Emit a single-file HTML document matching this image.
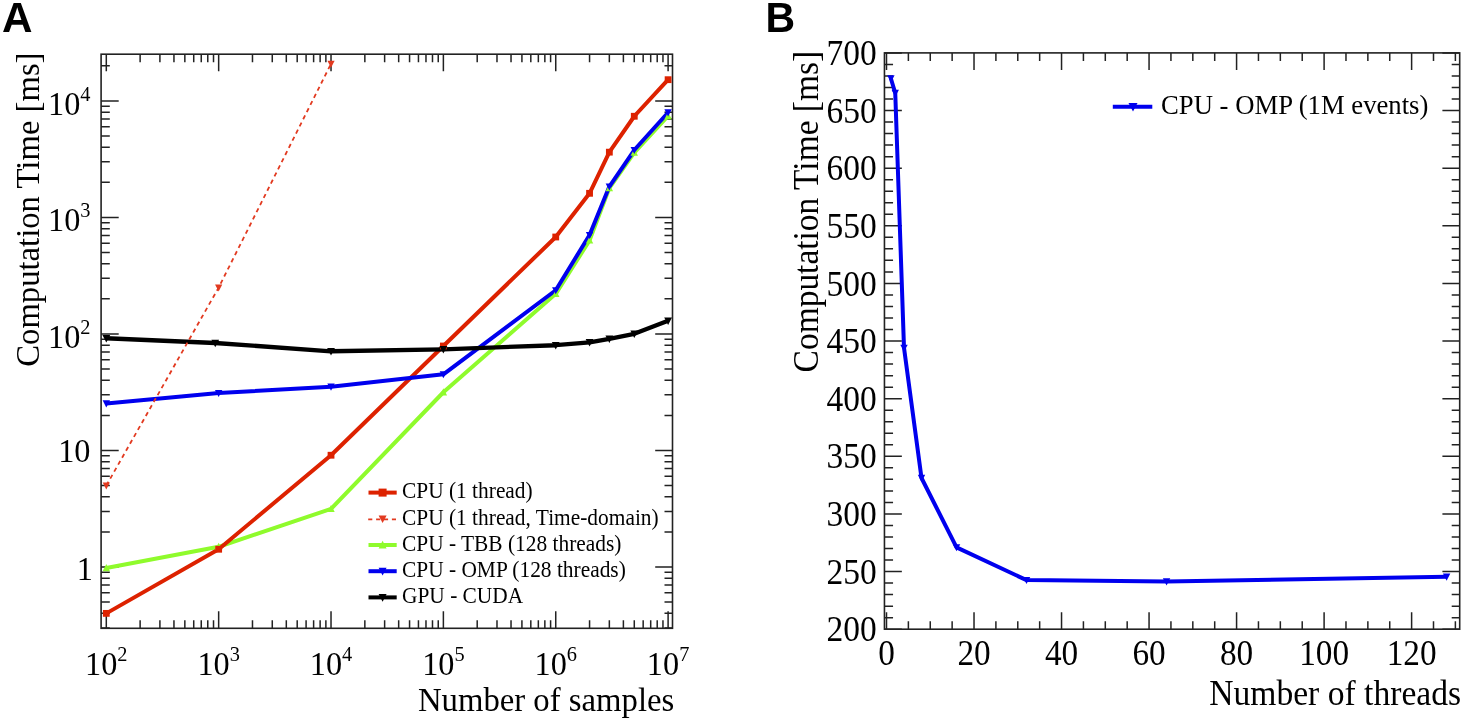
<!DOCTYPE html>
<html><head><meta charset="utf-8"><style>
html,body{margin:0;padding:0;background:#fff;width:1463px;height:721px;overflow:hidden}
svg{display:block;will-change:transform}
text{fill:#000}
</style></head><body>
<svg width="1463" height="721" viewBox="0 0 1463 721">
<defs><clipPath id="clipA"><rect x="101.1" y="54.2" width="571.4" height="574.0999999999999"/></clipPath></defs>
<rect x="101.1" y="54.2" width="571.40" height="574.10" fill="none" stroke="#222" stroke-width="1.6"/>
<path d="M106.30 628.3v-17M106.30 54.2v17M140.12 628.3v-8M140.12 54.2v8M159.91 628.3v-8M159.91 54.2v8M173.95 628.3v-8M173.95 54.2v8M184.84 628.3v-8M184.84 54.2v8M193.73 628.3v-8M193.73 54.2v8M201.26 628.3v-8M201.26 54.2v8M207.77 628.3v-8M207.77 54.2v8M213.52 628.3v-8M213.52 54.2v8M218.66 628.3v-17M218.66 54.2v17M252.48 628.3v-8M252.48 54.2v8M272.27 628.3v-8M272.27 54.2v8M286.31 628.3v-8M286.31 54.2v8M297.20 628.3v-8M297.20 54.2v8M306.09 628.3v-8M306.09 54.2v8M313.62 628.3v-8M313.62 54.2v8M320.13 628.3v-8M320.13 54.2v8M325.88 628.3v-8M325.88 54.2v8M331.02 628.3v-17M331.02 54.2v17M364.84 628.3v-8M364.84 54.2v8M384.63 628.3v-8M384.63 54.2v8M398.67 628.3v-8M398.67 54.2v8M409.56 628.3v-8M409.56 54.2v8M418.45 628.3v-8M418.45 54.2v8M425.98 628.3v-8M425.98 54.2v8M432.49 628.3v-8M432.49 54.2v8M438.24 628.3v-8M438.24 54.2v8M443.38 628.3v-17M443.38 54.2v17M477.20 628.3v-8M477.20 54.2v8M496.99 628.3v-8M496.99 54.2v8M511.03 628.3v-8M511.03 54.2v8M521.92 628.3v-8M521.92 54.2v8M530.81 628.3v-8M530.81 54.2v8M538.34 628.3v-8M538.34 54.2v8M544.85 628.3v-8M544.85 54.2v8M550.60 628.3v-8M550.60 54.2v8M555.74 628.3v-17M555.74 54.2v17M589.56 628.3v-8M589.56 54.2v8M609.35 628.3v-8M609.35 54.2v8M623.39 628.3v-8M623.39 54.2v8M634.28 628.3v-8M634.28 54.2v8M643.17 628.3v-8M643.17 54.2v8M650.70 628.3v-8M650.70 54.2v8M657.21 628.3v-8M657.21 54.2v8M662.96 628.3v-8M662.96 54.2v8M668.10 628.3v-17M668.10 54.2v17M101.1 627.93h8.7M672.5 627.93h-8M101.1 613.37h8.7M672.5 613.37h-8M101.1 602.08h8.7M672.5 602.08h-8M101.1 592.85h8.7M672.5 592.85h-8M101.1 585.05h8.7M672.5 585.05h-8M101.1 578.29h8.7M672.5 578.29h-8M101.1 572.33h8.7M672.5 572.33h-8M101.1 567.00h17.6M672.5 567.00h-17.3M101.1 531.92h8.7M672.5 531.92h-8M101.1 511.40h8.7M672.5 511.40h-8M101.1 496.84h8.7M672.5 496.84h-8M101.1 485.55h8.7M672.5 485.55h-8M101.1 476.32h8.7M672.5 476.32h-8M101.1 468.52h8.7M672.5 468.52h-8M101.1 461.76h8.7M672.5 461.76h-8M101.1 455.80h8.7M672.5 455.80h-8M101.1 450.47h17.6M672.5 450.47h-17.3M101.1 415.39h8.7M672.5 415.39h-8M101.1 394.87h8.7M672.5 394.87h-8M101.1 380.31h8.7M672.5 380.31h-8M101.1 369.02h8.7M672.5 369.02h-8M101.1 359.79h8.7M672.5 359.79h-8M101.1 351.99h8.7M672.5 351.99h-8M101.1 345.23h8.7M672.5 345.23h-8M101.1 339.27h8.7M672.5 339.27h-8M101.1 333.94h17.6M672.5 333.94h-17.3M101.1 298.86h8.7M672.5 298.86h-8M101.1 278.34h8.7M672.5 278.34h-8M101.1 263.78h8.7M672.5 263.78h-8M101.1 252.49h8.7M672.5 252.49h-8M101.1 243.26h8.7M672.5 243.26h-8M101.1 235.46h8.7M672.5 235.46h-8M101.1 228.70h8.7M672.5 228.70h-8M101.1 222.74h8.7M672.5 222.74h-8M101.1 217.41h17.6M672.5 217.41h-17.3M101.1 182.33h8.7M672.5 182.33h-8M101.1 161.81h8.7M672.5 161.81h-8M101.1 147.25h8.7M672.5 147.25h-8M101.1 135.96h8.7M672.5 135.96h-8M101.1 126.73h8.7M672.5 126.73h-8M101.1 118.93h8.7M672.5 118.93h-8M101.1 112.17h8.7M672.5 112.17h-8M101.1 106.21h8.7M672.5 106.21h-8M101.1 100.88h17.6M672.5 100.88h-17.3M101.1 65.80h8.7M672.5 65.80h-8" fill="none" stroke="#222" stroke-width="1.5"/>
<rect x="884.45" y="52.9" width="575.25" height="576.30" fill="none" stroke="#222" stroke-width="1.6"/>
<path d="M886.50 629.2v-17M886.50 52.9v17M908.38 629.2v-8M908.38 52.9v8M930.26 629.2v-8M930.26 52.9v8M952.14 629.2v-8M952.14 52.9v8M974.02 629.2v-17M974.02 52.9v17M995.90 629.2v-8M995.90 52.9v8M1017.78 629.2v-8M1017.78 52.9v8M1039.66 629.2v-8M1039.66 52.9v8M1061.54 629.2v-17M1061.54 52.9v17M1083.42 629.2v-8M1083.42 52.9v8M1105.30 629.2v-8M1105.30 52.9v8M1127.18 629.2v-8M1127.18 52.9v8M1149.06 629.2v-17M1149.06 52.9v17M1170.94 629.2v-8M1170.94 52.9v8M1192.82 629.2v-8M1192.82 52.9v8M1214.70 629.2v-8M1214.70 52.9v8M1236.58 629.2v-17M1236.58 52.9v17M1258.46 629.2v-8M1258.46 52.9v8M1280.34 629.2v-8M1280.34 52.9v8M1302.22 629.2v-8M1302.22 52.9v8M1324.10 629.2v-17M1324.10 52.9v17M1345.98 629.2v-8M1345.98 52.9v8M1367.86 629.2v-8M1367.86 52.9v8M1389.74 629.2v-8M1389.74 52.9v8M1411.62 629.2v-17M1411.62 52.9v17M1433.50 629.2v-8M1433.50 52.9v8M1455.38 629.2v-8M1455.38 52.9v8M884.45 629.20h17.4M1459.7 629.20h-17.3M884.45 617.67h8.6M1459.7 617.67h-8M884.45 606.15h8.6M1459.7 606.15h-8M884.45 594.62h8.6M1459.7 594.62h-8M884.45 583.10h8.6M1459.7 583.10h-8M884.45 571.57h17.4M1459.7 571.57h-17.3M884.45 560.04h8.6M1459.7 560.04h-8M884.45 548.52h8.6M1459.7 548.52h-8M884.45 536.99h8.6M1459.7 536.99h-8M884.45 525.47h8.6M1459.7 525.47h-8M884.45 513.94h17.4M1459.7 513.94h-17.3M884.45 502.41h8.6M1459.7 502.41h-8M884.45 490.89h8.6M1459.7 490.89h-8M884.45 479.36h8.6M1459.7 479.36h-8M884.45 467.84h8.6M1459.7 467.84h-8M884.45 456.31h17.4M1459.7 456.31h-17.3M884.45 444.78h8.6M1459.7 444.78h-8M884.45 433.26h8.6M1459.7 433.26h-8M884.45 421.73h8.6M1459.7 421.73h-8M884.45 410.21h8.6M1459.7 410.21h-8M884.45 398.68h17.4M1459.7 398.68h-17.3M884.45 387.15h8.6M1459.7 387.15h-8M884.45 375.63h8.6M1459.7 375.63h-8M884.45 364.10h8.6M1459.7 364.10h-8M884.45 352.58h8.6M1459.7 352.58h-8M884.45 341.05h17.4M1459.7 341.05h-17.3M884.45 329.52h8.6M1459.7 329.52h-8M884.45 318.00h8.6M1459.7 318.00h-8M884.45 306.47h8.6M1459.7 306.47h-8M884.45 294.95h8.6M1459.7 294.95h-8M884.45 283.42h17.4M1459.7 283.42h-17.3M884.45 271.89h8.6M1459.7 271.89h-8M884.45 260.37h8.6M1459.7 260.37h-8M884.45 248.84h8.6M1459.7 248.84h-8M884.45 237.32h8.6M1459.7 237.32h-8M884.45 225.79h17.4M1459.7 225.79h-17.3M884.45 214.26h8.6M1459.7 214.26h-8M884.45 202.74h8.6M1459.7 202.74h-8M884.45 191.21h8.6M1459.7 191.21h-8M884.45 179.69h8.6M1459.7 179.69h-8M884.45 168.16h17.4M1459.7 168.16h-17.3M884.45 156.63h8.6M1459.7 156.63h-8M884.45 145.11h8.6M1459.7 145.11h-8M884.45 133.58h8.6M1459.7 133.58h-8M884.45 122.06h8.6M1459.7 122.06h-8M884.45 110.53h17.4M1459.7 110.53h-17.3M884.45 99.00h8.6M1459.7 99.00h-8M884.45 87.48h8.6M1459.7 87.48h-8M884.45 75.95h8.6M1459.7 75.95h-8M884.45 64.43h8.6M1459.7 64.43h-8M884.45 52.90h17.4M1459.7 52.90h-17.3" fill="none" stroke="#222" stroke-width="1.5"/>
<g clip-path="url(#clipA)">
<polyline points="106.30,568.02 218.66,546.82 331.02,508.93 443.38,392.24 555.74,293.81 589.56,240.39 609.35,188.09 634.28,152.72 668.10,115.98" fill="none" stroke="#8ffb2c" stroke-width="4" stroke-linejoin="round"/>
<polyline points="106.30,613.37 218.66,549.25 331.02,455.24 443.38,346.00 555.74,237.00 589.56,193.31 609.35,152.16 634.28,116.26 668.10,79.69" fill="none" stroke="#dd2200" stroke-width="4" stroke-linejoin="round"/>
<polyline points="106.30,403.49 218.66,393.05 331.02,386.64 443.38,374.35 555.74,290.27 589.56,235.03 609.35,186.61 634.28,150.02 668.10,112.49" fill="none" stroke="#0000ee" stroke-width="4" stroke-linejoin="round"/>
<polyline points="106.30,338.27 215.26,343.01 331.02,351.27 443.38,349.32 555.74,345.23 589.56,342.40 609.35,338.77 634.28,333.79 668.10,320.78" fill="none" stroke="#000000" stroke-width="4.3" stroke-linejoin="round"/>
<polyline points="106.30,485.55 218.66,287.57 331.02,63.82" fill="none" stroke="#e23a20" stroke-width="1.8" stroke-dasharray="4.3,3.7"/>
<path d="M102.60 571.17H110.00L106.30 564.03Z" fill="#8ffb2c"/>
<path d="M214.96 549.96H222.36L218.66 542.82Z" fill="#8ffb2c"/>
<path d="M327.32 512.08H334.72L331.02 504.94Z" fill="#8ffb2c"/>
<path d="M439.68 395.39H447.08L443.38 388.25Z" fill="#8ffb2c"/>
<path d="M552.04 296.95H559.44L555.74 289.81Z" fill="#8ffb2c"/>
<path d="M585.86 243.54H593.26L589.56 236.40Z" fill="#8ffb2c"/>
<path d="M605.65 191.23H613.05L609.35 184.09Z" fill="#8ffb2c"/>
<path d="M630.58 155.87H637.98L634.28 148.73Z" fill="#8ffb2c"/>
<path d="M664.40 119.13H671.80L668.10 111.99Z" fill="#8ffb2c"/>
<rect x="102.90" y="609.97" width="6.80" height="6.80" fill="#dd2200"/>
<rect x="215.26" y="545.85" width="6.80" height="6.80" fill="#dd2200"/>
<rect x="327.62" y="451.84" width="6.80" height="6.80" fill="#dd2200"/>
<rect x="439.98" y="342.60" width="6.80" height="6.80" fill="#dd2200"/>
<rect x="552.34" y="233.60" width="6.80" height="6.80" fill="#dd2200"/>
<rect x="586.16" y="189.91" width="6.80" height="6.80" fill="#dd2200"/>
<rect x="605.95" y="148.76" width="6.80" height="6.80" fill="#dd2200"/>
<rect x="630.88" y="112.86" width="6.80" height="6.80" fill="#dd2200"/>
<rect x="664.70" y="76.29" width="6.80" height="6.80" fill="#dd2200"/>
<path d="M102.60 400.35H110.00L106.30 407.49Z" fill="#0000ee"/>
<path d="M214.96 389.90H222.36L218.66 397.04Z" fill="#0000ee"/>
<path d="M327.32 383.49H334.72L331.02 390.63Z" fill="#0000ee"/>
<path d="M439.68 371.21H447.08L443.38 378.35Z" fill="#0000ee"/>
<path d="M552.04 287.13H559.44L555.74 294.27Z" fill="#0000ee"/>
<path d="M585.86 231.88H593.26L589.56 239.02Z" fill="#0000ee"/>
<path d="M605.65 183.46H613.05L609.35 190.60Z" fill="#0000ee"/>
<path d="M630.58 146.88H637.98L634.28 154.02Z" fill="#0000ee"/>
<path d="M664.40 109.35H671.80L668.10 116.49Z" fill="#0000ee"/>
<path d="M102.40 334.95H110.20L106.30 342.48Z" fill="#000000"/>
<path d="M211.36 339.69H219.16L215.26 347.22Z" fill="#000000"/>
<path d="M327.12 347.96H334.92L331.02 355.48Z" fill="#000000"/>
<path d="M439.48 346.00H447.28L443.38 353.53Z" fill="#000000"/>
<path d="M551.84 341.92H559.64L555.74 349.44Z" fill="#000000"/>
<path d="M585.66 339.09H593.46L589.56 346.62Z" fill="#000000"/>
<path d="M605.45 335.45H613.25L609.35 342.98Z" fill="#000000"/>
<path d="M630.38 330.47H638.18L634.28 338.00Z" fill="#000000"/>
<path d="M664.20 317.46H672.00L668.10 324.99Z" fill="#000000"/>
<path d="M102.70 482.49H109.90L106.30 489.44Z" fill="#e23a20"/>
<path d="M215.06 284.51H222.26L218.66 291.46Z" fill="#e23a20"/>
<path d="M327.42 60.76H334.62L331.02 67.70Z" fill="#e23a20"/>
</g>
<polyline points="890.88,78.49 895.25,93.01 904.00,347.85 921.51,477.98 956.52,547.37 1026.53,580.10 1166.56,581.48 1446.63,576.76" fill="none" stroke="#0000ee" stroke-width="4" stroke-linejoin="round"/>
<path d="M887.18 75.34H894.58L890.88 82.48Z" fill="#0000ee"/>
<path d="M891.55 89.87H898.95L895.25 97.01Z" fill="#0000ee"/>
<path d="M900.30 344.71H907.70L904.00 351.85Z" fill="#0000ee"/>
<path d="M917.81 474.83H925.21L921.51 481.97Z" fill="#0000ee"/>
<path d="M952.82 544.22H960.22L956.52 551.36Z" fill="#0000ee"/>
<path d="M1022.83 576.95H1030.23L1026.53 584.10Z" fill="#0000ee"/>
<path d="M1162.86 578.34H1170.26L1166.56 585.48Z" fill="#0000ee"/>
<path d="M1442.93 573.61H1450.33L1446.63 580.75Z" fill="#0000ee"/>
<text transform="translate(106.30,675.00) scale(1,1.045)" font-family="Liberation Serif" font-size="32.3" text-anchor="middle">10<tspan font-size="20.4" dy="-13.40">2</tspan></text>
<text transform="translate(218.66,675.00) scale(1,1.045)" font-family="Liberation Serif" font-size="32.3" text-anchor="middle">10<tspan font-size="20.4" dy="-13.40">3</tspan></text>
<text transform="translate(331.02,675.00) scale(1,1.045)" font-family="Liberation Serif" font-size="32.3" text-anchor="middle">10<tspan font-size="20.4" dy="-13.40">4</tspan></text>
<text transform="translate(443.38,675.00) scale(1,1.045)" font-family="Liberation Serif" font-size="32.3" text-anchor="middle">10<tspan font-size="20.4" dy="-13.40">5</tspan></text>
<text transform="translate(555.74,675.00) scale(1,1.045)" font-family="Liberation Serif" font-size="32.3" text-anchor="middle">10<tspan font-size="20.4" dy="-13.40">6</tspan></text>
<text transform="translate(668.10,675.00) scale(1,1.045)" font-family="Liberation Serif" font-size="32.3" text-anchor="middle">10<tspan font-size="20.4" dy="-13.40">7</tspan></text>
<text transform="translate(90.50,114.68) scale(1,1.045)" font-family="Liberation Serif" font-size="32.3" text-anchor="end">10<tspan font-size="20.4" dy="-13.40">4</tspan></text>
<text transform="translate(90.50,231.21) scale(1,1.045)" font-family="Liberation Serif" font-size="32.3" text-anchor="end">10<tspan font-size="20.4" dy="-13.40">3</tspan></text>
<text transform="translate(90.50,347.74) scale(1,1.045)" font-family="Liberation Serif" font-size="32.3" text-anchor="end">10<tspan font-size="20.4" dy="-13.40">2</tspan></text>
<text transform="translate(90.50,461.97) scale(1,1.045)" font-family="Liberation Serif" font-size="32.3" text-anchor="end">10</text>
<text transform="translate(93.00,579.50) scale(1,1.045)" font-family="Liberation Serif" font-size="32.3" text-anchor="end">1</text>
<text transform="translate(674.30,710.80) scale(1,1.045)" font-family="Liberation Serif" font-size="32.75" text-anchor="end">Number of samples</text>
<text transform="translate(39.30,52.50) rotate(-90) scale(1,1.045)" font-family="Liberation Serif" font-size="32.7" text-anchor="end">Computation Time [ms]</text>
<path d="M368.5 492.60H396.7" stroke="#dd2200" stroke-width="4"/>
<rect x="378.60" y="488.60" width="8.00" height="8.00" fill="#dd2200"/>
<text transform="translate(402.00,498.30) scale(1,1.045)" font-family="Liberation Serif" font-size="21.4" text-anchor="start">CPU (1 thread)</text>
<path d="M368.2 519.30H396.7" stroke="#e23a20" stroke-width="1.7" stroke-dasharray="4.1,3.8"/>
<path d="M378.60 515.40H386.60L382.60 523.12Z" fill="#e23a20"/>
<text transform="translate(402.00,524.50) scale(1,1.045)" font-family="Liberation Serif" font-size="21.4" text-anchor="start">CPU (1 thread, Time-domain)</text>
<path d="M368.5 545.00H396.7" stroke="#8ffb2c" stroke-width="4"/>
<path d="M378.60 548.40H386.60L382.60 540.68Z" fill="#8ffb2c"/>
<text transform="translate(402.00,550.70) scale(1,1.045)" font-family="Liberation Serif" font-size="21.4" text-anchor="start">CPU - TBB (128 threads)</text>
<path d="M368.5 571.20H396.7" stroke="#0000ee" stroke-width="4"/>
<path d="M378.60 567.80H386.60L382.60 575.52Z" fill="#0000ee"/>
<text transform="translate(402.00,576.90) scale(1,1.045)" font-family="Liberation Serif" font-size="21.4" text-anchor="start">CPU - OMP (128 threads)</text>
<path d="M368.5 597.40H396.7" stroke="#000000" stroke-width="4"/>
<path d="M378.60 594.00H386.60L382.60 601.72Z" fill="#000000"/>
<text transform="translate(402.00,603.10) scale(1,1.045)" font-family="Liberation Serif" font-size="21.4" text-anchor="start">GPU - CUDA</text>
<text transform="translate(886.50,665.40) scale(1,1.045)" font-family="Liberation Serif" font-size="33.3" text-anchor="middle">0</text>
<text transform="translate(974.02,665.40) scale(1,1.045)" font-family="Liberation Serif" font-size="33.3" text-anchor="middle">20</text>
<text transform="translate(1061.54,665.40) scale(1,1.045)" font-family="Liberation Serif" font-size="33.3" text-anchor="middle">40</text>
<text transform="translate(1149.06,665.40) scale(1,1.045)" font-family="Liberation Serif" font-size="33.3" text-anchor="middle">60</text>
<text transform="translate(1236.58,665.40) scale(1,1.045)" font-family="Liberation Serif" font-size="33.3" text-anchor="middle">80</text>
<text transform="translate(1324.10,665.40) scale(1,1.045)" font-family="Liberation Serif" font-size="33.3" text-anchor="middle">100</text>
<text transform="translate(1411.62,665.40) scale(1,1.045)" font-family="Liberation Serif" font-size="33.3" text-anchor="middle">120</text>
<text transform="translate(876.80,641.30) scale(1,1.045)" font-family="Liberation Serif" font-size="33.5" text-anchor="end">200</text>
<text transform="translate(876.80,583.67) scale(1,1.045)" font-family="Liberation Serif" font-size="33.5" text-anchor="end">250</text>
<text transform="translate(876.80,526.04) scale(1,1.045)" font-family="Liberation Serif" font-size="33.5" text-anchor="end">300</text>
<text transform="translate(876.80,468.41) scale(1,1.045)" font-family="Liberation Serif" font-size="33.5" text-anchor="end">350</text>
<text transform="translate(876.80,410.78) scale(1,1.045)" font-family="Liberation Serif" font-size="33.5" text-anchor="end">400</text>
<text transform="translate(876.80,353.15) scale(1,1.045)" font-family="Liberation Serif" font-size="33.5" text-anchor="end">450</text>
<text transform="translate(876.80,295.52) scale(1,1.045)" font-family="Liberation Serif" font-size="33.5" text-anchor="end">500</text>
<text transform="translate(876.80,237.89) scale(1,1.045)" font-family="Liberation Serif" font-size="33.5" text-anchor="end">550</text>
<text transform="translate(876.80,180.26) scale(1,1.045)" font-family="Liberation Serif" font-size="33.5" text-anchor="end">600</text>
<text transform="translate(876.80,122.63) scale(1,1.045)" font-family="Liberation Serif" font-size="33.5" text-anchor="end">650</text>
<text transform="translate(876.80,65.00) scale(1,1.045)" font-family="Liberation Serif" font-size="33.5" text-anchor="end">700</text>
<text transform="translate(1461.10,705.20) scale(1,1.045)" font-family="Liberation Serif" font-size="33.6" text-anchor="end">Number of threads</text>
<text transform="translate(817.90,50.80) rotate(-90) scale(1,1.045)" font-family="Liberation Serif" font-size="33.46" text-anchor="end">Computation Time [ms]</text>
<path d="M1112.8 106.7H1152.3" stroke="#0000ee" stroke-width="4"/>
<path d="M1128.50 102.88H1137.50L1133.00 111.56Z" fill="#0000ee"/>
<text transform="translate(1161.00,113.70) scale(1,1.045)" font-family="Liberation Serif" font-size="26.7" text-anchor="start">CPU - OMP (1M events)</text>
<text transform="translate(2.0,31.9) scale(1.03,1.055)" font-family="Liberation Sans" font-weight="bold" font-size="41" fill="#16130e">A</text>
<text transform="translate(765.5,31.9) scale(1.0,1.055)" font-family="Liberation Sans" font-weight="bold" font-size="41" fill="#16130e">B</text>
</svg></body></html>
